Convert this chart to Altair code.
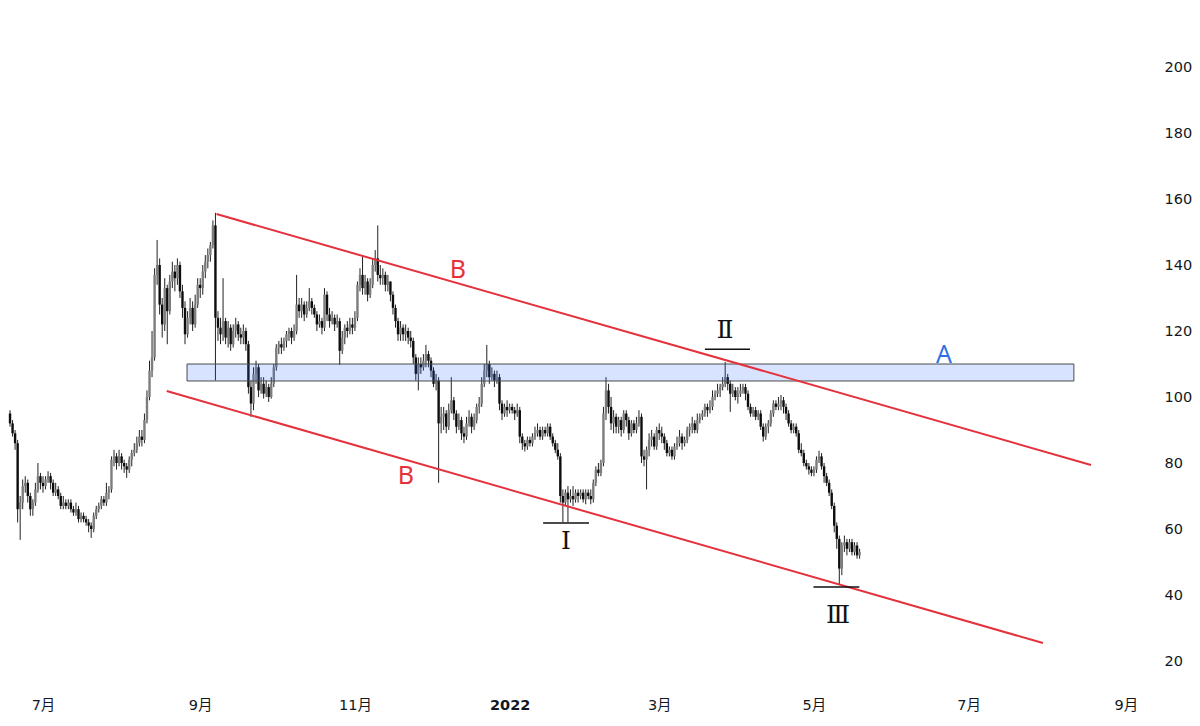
import altair as alt
import pandas as pd

# ---------------- daily price data ----------------
start_date = "2021-06-18"
first_open = 95

closes = [
    # Jun 18-30 2021
    92, 89, 86, 66, 68, 73, 74, 70, 66, 68, 72, 76, 74,
    # Jul
    73, 75, 76, 74, 71, 72, 70, 67, 68, 67, 68, 66, 65, 66, 63, 64, 63, 62, 61, 60,
    64, 66, 67, 69, 68, 71, 72, 81, 82, 80, 82,
    # Aug
    80, 79, 78, 81, 83, 84, 86, 88, 87, 93, 100, 108, 112, 137, 140, 128, 122, 133, 126, 135,
    138, 136, 140, 132, 127, 119, 124, 127, 122, 128, 134,
    # Sep
    133, 138, 141, 143, 146, 152, 124, 121, 119, 123, 118, 121, 116, 120, 122, 119, 118, 120, 116, 103,
    98, 107, 109, 102, 104, 101, 103, 100, 104, 109,
    # Oct
    115, 116, 115, 117, 119, 120, 118, 120, 128, 126, 128, 125, 127, 129, 127, 125, 122, 123, 121, 131,
    125, 123, 124, 122, 123, 114, 118, 121, 120, 122, 121,
    # Nov
    124, 134, 137, 133, 135, 131, 134, 140, 142, 137, 136, 137, 134, 135, 131, 127, 123, 119, 121, 119,
    120, 118, 117, 112, 107, 110, 109, 111, 113, 111,
    # Dec
    108, 104, 105, 92, 94, 95, 91, 96, 99, 95, 91, 93, 89, 88, 92, 94, 91, 93, 97, 98,
    104, 108, 110, 106, 107, 105, 106, 98, 95, 97, 96,
    # Jan 2022
    97, 96, 95, 96, 88, 86, 85, 87, 86, 88, 89, 90, 88, 90, 89, 91, 88, 86, 84, 82,
    70, 68, 71, 69, 70, 69, 71, 70, 71, 69, 71,
    # Feb
    70, 69, 74, 78, 77, 80, 95, 102, 97, 92, 94, 91, 93, 90, 95, 93, 89, 92, 90, 92,
    94, 82, 81, 84, 87, 88, 85, 90,
    # Mar
    89, 88, 86, 83, 84, 82, 85, 86, 88, 86, 87, 90, 91, 92, 90, 93, 94, 95, 97, 96,
    97, 100, 101, 102, 103, 104, 106, 104, 101, 102, 100,
    # Apr
    101, 102, 103, 101, 97, 95, 96, 94, 95, 91, 88, 91, 92, 95, 98, 97, 98, 99, 97, 95,
    92, 90, 91, 89, 84, 83, 80, 79, 78, 77,
    # May 1-19
    78, 81, 82, 79, 76, 74, 71, 67, 61, 57, 48, 55, 56, 54, 56, 53, 55, 52, 53,
]

highs = [
    96, 93, 90, 87, 70, 75, 76, 75, 71, 69, 74, 80, 77,
    76, 76, 77.5, 77, 75, 74, 73, 71, 70, 69, 69, 69, 67, 68, 67, 65, 65, 64, 63, 62,
    65, 67, 68, 70, 70, 74, 73, 82, 84, 83, 84,
    83, 81, 80, 82, 84, 86, 88, 90, 90, 95, 102, 111, 120, 139, 147.6, 142, 130, 136, 134, 137,
    141, 140, 142, 141, 134, 129, 126, 130, 129, 131, 136,
    136, 140, 143, 145, 147, 153.5, 155.8, 126, 124, 136, 124, 123, 122, 122, 124, 123, 121, 122, 121, 117,
    105, 109, 111, 110, 106, 106, 105, 104, 106, 110,
    116, 117, 118, 118, 120, 121, 121, 122, 137, 130, 130, 129, 129, 133, 130, 128, 126, 125, 124, 133,
    132, 127, 126, 125, 125, 124, 120, 122, 123, 124, 124,
    126, 135, 139, 142.5, 137, 136, 136, 142, 144.5, 152, 140, 139, 138, 137, 135, 132, 128, 124, 123, 122,
    122, 121, 120, 118, 113, 112, 112, 113, 115.8, 114,
    112, 109, 107, 106, 97, 97, 96, 98, 106, 100, 96, 95, 94, 91, 94, 96, 95, 95, 98, 100,
    106, 110, 115.8, 111, 109, 108, 108, 107, 99, 98, 99,
    98, 98, 97, 98, 97, 89, 87, 88, 88, 89, 91, 92, 91, 91, 91, 92, 92, 89, 87, 86,
    83, 72, 72, 73, 72, 73, 72, 72, 72, 72, 72,
    72, 72, 75, 79, 80, 81, 97, 106, 104, 100, 96, 95, 94, 94, 96, 96, 94, 93, 93, 94,
    96, 95, 84, 85, 89, 90, 89, 91,
    92, 91, 89, 87, 85, 85, 86, 88, 90, 89, 88, 91, 92, 94, 93, 95, 95, 96, 98, 98,
    99, 102, 102, 104, 104, 106, 110.6, 107, 105, 104, 103,
    103, 104, 104, 104, 102, 98, 97, 97, 96, 96, 92, 92, 93, 96, 99, 99, 100, 100.6, 100, 98,
    96, 93, 92, 92, 90, 86, 84, 81, 80, 79,
    79, 82, 83.7, 83, 80, 77, 75, 72, 68, 62, 58, 56, 58, 57, 57, 57, 56, 56, 54,
]

lows = [
    91, 88, 84, 62, 56.7, 66, 71, 68, 64, 64, 67, 71, 72,
    71, 72, 74, 72, 70, 70, 69, 66, 66, 66, 66, 65, 64, 64, 62, 62, 62, 61, 59, 57.3,
    59, 63, 65, 66, 67, 67, 69, 71, 79, 78, 79,
    78, 77, 75.5, 77, 79, 82, 83, 85, 85, 86, 92, 99, 106, 111, 134, 125, 118, 120, 116, 125,
    133, 132, 134, 130, 124, 116, 118, 122, 120, 121, 127,
    130, 131, 136, 139, 141, 145, 105, 117, 116, 117, 116, 115, 114, 115, 118, 117, 116, 116, 114, 101,
    94, 96, 104, 100, 101, 99.5, 100, 98.5, 99.5, 103,
    108, 113, 113, 114, 115, 117, 116, 117, 119, 124, 124, 123, 124, 126, 125, 124, 120, 121, 119, 120,
    123, 121, 122, 120, 121, 109.7, 113, 116, 118, 119, 119,
    120, 123, 132, 131, 131, 129, 130, 133, 138, 135, 134, 134, 132, 132, 129, 125, 121, 117, 117, 117,
    117, 116, 115, 110, 105, 102, 107, 108, 109, 109,
    106, 103, 102, 74, 89, 90, 89, 90, 95, 93, 89, 90, 87, 86, 87, 91, 89, 90, 92, 95,
    97, 103, 106, 104, 105, 103, 104, 96, 93, 94, 94,
    95, 95, 93, 94, 86, 84, 83.5, 84, 85, 85, 87, 88, 87, 87, 88, 88, 87, 85, 83, 81,
    68, 62, 67, 62, 68, 67, 68, 68, 69, 68, 67.5,
    69, 67.5, 68, 73, 76, 76, 79, 93, 95, 90, 89, 89, 89, 88, 89, 91, 87, 88, 89, 89,
    91, 80, 79, 72, 82, 85, 84, 84,
    87, 86, 84, 82, 82, 81, 81, 84, 85, 84, 85, 86, 88, 89, 89, 89, 92, 93, 94, 94,
    95, 96, 99, 100, 100, 102, 103, 102, 95.5, 100, 99,
    98, 100, 101, 99, 96, 94, 94, 93, 93, 90, 86.5, 87, 89, 91, 94, 96, 96, 96, 95, 93,
    91, 89, 89, 88, 83, 82, 79, 78, 76.5, 76,
    76, 77, 80, 78, 74, 73, 70, 66, 59, 54, 43, 46, 53, 52, 53, 52, 52, 51, 51,
]

# ---------------- annotations ----------------
band = {"start": ["2021-08-26T19:00:00Z"], "end": ["2022-08-11T12:00:00Z"],
        "lo": [104.85], "hi": [110.0]}
trend_x1 = ["2021-09-07T10:00:00Z", "2021-08-18T18:40:00Z"]
trend_x2 = ["2022-08-18T06:00:00Z", "2022-07-30T07:00:00Z"]
trend_y1 = [155.45, 101.8]
trend_y2 = [79.4, 25.45]

b_dates = ["2021-12-11T14:00:00Z", "2021-11-21T03:00:00Z"]
b_vals = [138.5, 76.1]
a_dates = ["2022-06-21T07:00:00Z"]
a_vals = [112.7]

roman_text = ["Ⅰ", "Ⅱ", "Ⅲ"]
roman_dates = ["2022-01-23T05:00:00Z", "2022-03-26T22:00:00Z", "2022-05-10T12:00:00Z"]
roman_vals = [56.4, 120.4, 33.8]
mark_x1 = ["2022-01-14T05:00:00Z", "2022-03-19T00:00:00Z", "2022-04-30T19:00:00Z"]
mark_x2 = ["2022-02-01T07:00:00Z", "2022-04-05T19:00:00Z", "2022-05-18T22:00:00Z"]
mark_vals = [61.8, 114.5, 42.4]

y_ticks = [20, 40, 60, 80, 100, 120, 140, 160, 180, 200]
x_ticks = [(2021, 7), (2021, 9), (2021, 11), (2022, 1), (2022, 3), (2022, 5), (2022, 7), (2022, 9)]

# ---------------- frames ----------------
dates = pd.date_range(start_date, periods=len(closes), freq="D")
opens = [first_open] + closes[:-1]
df = pd.DataFrame({
    "date": dates.strftime("%Y-%m-%dT00:00:00Z"),
    "open": opens, "high": highs, "low": lows, "close": closes,
})
df["dir"] = ["up" if c >= o else "down" for o, c in zip(opens, closes)]

df_band = pd.DataFrame(band)
df_trend = pd.DataFrame({"x1": trend_x1, "x2": trend_x2, "y1": trend_y1, "y2": trend_y2})
df_b = pd.DataFrame({"d": b_dates, "v": b_vals, "t": ["B", "B"]})
df_a = pd.DataFrame({"d": a_dates, "v": a_vals, "t": ["A"]})
df_roman = pd.DataFrame({"d": roman_dates, "v": roman_vals, "t": roman_text})
df_marks = pd.DataFrame({"x1": mark_x1, "x2": mark_x2, "v": mark_vals})

# ---------------- scales / axes ----------------
x_scale = alt.Scale(type="utc", domain=[
    alt.DateTime(year=2021, month=6, date=17, hours=4, minutes=48, utc=True),
    alt.DateTime(year=2022, month=9, date=13, hours=16, utc=True),
])
y_scale = alt.Scale(domain=[9.697, 217.879], nice=False, zero=False)

x_axis = alt.Axis(
    values=[alt.DateTime(year=y, month=m, date=1, utc=True) for y, m in x_ticks],
    labelExpr="utcmonth(datum.value) == 0 ? utcFormat(datum.value, '%Y') : (utcmonth(datum.value) + 1) + '月'",
    grid=False, domain=False, ticks=False, labelPadding=3,
    labelFont="DejaVu Sans, Noto Sans CJK SC", labelFontSize=14.5, labelColor="#131722",
    labelFontWeight={"condition": {"test": "utcmonth(datum.value) == 0", "value": "bold"}, "value": "normal"},
    labelFlush=False, labelOverlap=False, title=None,
)
y_axis = alt.Axis(
    orient="right", values=y_ticks, grid=False, domain=False, ticks=False,
    labelPadding=6, labelFont="DejaVu Sans", labelFontSize=14.5, labelColor="#131722",
    labelFlush=False, labelOverlap=False, title=None,
)


def X(field):
    return alt.X(f"{field}:T", scale=x_scale, axis=x_axis, title=None)


def Y(field):
    return alt.Y(f"{field}:Q", scale=y_scale, axis=y_axis, title=None)


wicks = alt.Chart(df).mark_rule(color="#222222", strokeWidth=1, clip=True).encode(
    x=X("date"), y=Y("low"), y2=alt.Y2("high"))
bodies = alt.Chart(df).mark_rule(strokeWidth=2.4, clip=True).encode(
    x=X("date"), y=Y("open"), y2=alt.Y2("close"),
    color=alt.Color("dir:N", scale=alt.Scale(domain=["up", "down"], range=["#7d7d7d", "#0d0d0d"]), legend=None))

band_layer = alt.Chart(df_band).mark_rect(
    fill="#2962ff", fillOpacity=0.18, stroke="#4a4a4a", strokeWidth=1).encode(
    x=X("start"), x2=alt.X2("end"), y=Y("lo"), y2=alt.Y2("hi"))

trend_layer = alt.Chart(df_trend).mark_rule(color="#e5313b", strokeWidth=2).encode(
    x=X("x1"), x2=alt.X2("x2"), y=Y("y1"), y2=alt.Y2("y2"))

marks_layer = alt.Chart(df_marks).mark_rule(color="#111111", strokeWidth=1.5).encode(
    x=X("x1"), x2=alt.X2("x2"), y=Y("v"))

b_layer = alt.Chart(df_b).mark_text(
    font="Noto Sans", fontSize=25, color="#e5313b", align="center", baseline="middle").encode(
    x=X("d"), y=Y("v"), text="t:N")
a_layer = alt.Chart(df_a).mark_text(
    font="Noto Sans", fontSize=25, color="#2f6fe4", align="center", baseline="middle").encode(
    x=X("d"), y=Y("v"), text="t:N")
roman_layer = alt.Chart(df_roman).mark_text(
    font="DejaVu Serif", fontSize=25, color="#111111", align="center", baseline="middle").encode(
    x=X("d"), y=Y("v"), text="t:N")

chart = alt.layer(
    wicks, bodies, band_layer, trend_layer, marks_layer, b_layer, a_layer, roman_layer
).properties(
    width=1150, height=687,
    autosize=alt.AutoSizeParams(type="none"),
    padding={"left": 0, "top": 0, "right": 34, "bottom": 19},
    background="#ffffff",
).configure_view(strokeWidth=0)

chart.save("out.html", embed_options={"renderer": "svg", "actions": False})
